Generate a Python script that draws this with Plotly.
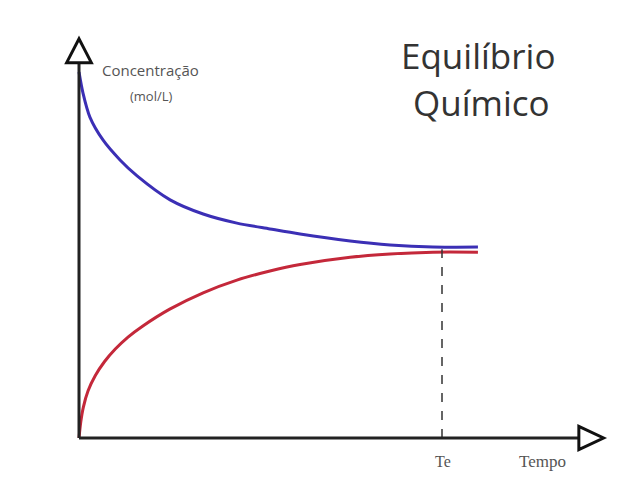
import plotly.graph_objects as go

# Data (time in arbitrary units, concentration in mol/L arbitrary units)
t_reagente = [0.0, 0.11, 0.30, 0.66, 1.13, 1.60, 2.51, 3.42, 4.35, 5.26, 6.09, 7.47, 8.57, 9.75, 10.99]
c_reagente = [10.08, 9.50, 8.84, 8.21, 7.66, 7.22, 6.56, 6.17, 5.92, 5.76, 5.62, 5.43, 5.32, 5.26, 5.26]

t_produto = [0.0, 0.05, 0.12, 0.25, 0.45, 0.70, 1.00, 1.35, 1.75, 2.50, 3.42, 4.35, 5.26, 6.09, 7.47, 8.57, 9.75, 10.99]
c_produto = [0.0, 0.45, 0.85, 1.30, 1.72, 2.10, 2.45, 2.78, 3.08, 3.55, 4.00, 4.35, 4.60, 4.78, 4.98, 5.07, 5.12, 5.12]

t_eq = 10.0
c_eq = 5.2
x_axis_end = 14.45
y_axis_end = 11.0

title_lines = ["Equilíbrio", "Químico"]
y_label = ["Concentração", "(mol/L)"]
x_label = "Tempo"
te_label = "Te"

fig = go.Figure()

fig.add_trace(go.Scatter(x=t_reagente, y=c_reagente, mode="lines",
                         line=dict(color="#3b2fb5", width=3, shape="spline", smoothing=0.8),
                         showlegend=False, hoverinfo="skip"))
fig.add_trace(go.Scatter(x=t_produto, y=c_produto, mode="lines",
                         line=dict(color="#c4283a", width=3, shape="spline", smoothing=0.8),
                         showlegend=False, hoverinfo="skip"))

shapes = []
# dashed equilibrium line
shapes.append(dict(type="line", x0=t_eq, x1=t_eq, y0=0, y1=c_eq, xref="x", yref="y",
                   line=dict(color="#333333", width=1.5, dash="dash")))
# axes
shapes.append(dict(type="line", x0=0, x1=0, y0=0, y1=y_axis_end - 0.6, xref="x", yref="y",
                   line=dict(color="#222222", width=3)))
shapes.append(dict(type="line", x0=0, x1=x_axis_end - 0.6, y0=0, y1=0, xref="x", yref="y",
                   line=dict(color="#222222", width=3)))
# arrow heads (open triangles)
hw = 0.34
shapes.append(dict(type="path", xref="x", yref="y",
                   path=f"M {-hw},{y_axis_end-0.66} L {hw},{y_axis_end-0.66} L 0,{y_axis_end} Z",
                   fillcolor="white", line=dict(color="#111111", width=3)))
shapes.append(dict(type="path", xref="x", yref="y",
                   path=f"M {x_axis_end-0.68},{-0.32} L {x_axis_end-0.68},{0.32} L {x_axis_end},0 Z",
                   fillcolor="white", line=dict(color="#111111", width=3)))

annotations = [
    dict(x=1.96, y=10.14, xref="x", yref="y", text=y_label[0], showarrow=False,
         font=dict(family="Open Sans", size=15, color="#555555")),
    dict(x=2.01, y=9.42, xref="x", yref="y", text=y_label[1], showarrow=False,
         font=dict(family="Open Sans", size=13, color="#555555")),
    dict(x=10.99, y=10.55, xref="x", yref="y", text=title_lines[0], showarrow=False,
         font=dict(family="Open Sans", size=35, color="#333333")),
    dict(x=11.1, y=9.23, xref="x", yref="y", text=title_lines[1], showarrow=False,
         font=dict(family="Open Sans", size=35, color="#333333")),
    dict(x=10.03, y=-0.66, xref="x", yref="y", text=te_label, showarrow=False,
         font=dict(family="Liberation Serif", size=16, color="#555555")),
    dict(x=12.78, y=-0.66, xref="x", yref="y", text=x_label, showarrow=False,
         font=dict(family="Liberation Serif", size=17, color="#555555")),
]

# page body has an 8px margin; ranges compensate so marks land where intended
fig.update_layout(
    width=640, height=479,
    margin=dict(l=0, r=0, t=0, b=0),
    paper_bgcolor="white", plot_bgcolor="white",
    xaxis=dict(range=[-1.956, 15.675], visible=False, fixedrange=True),
    yaxis=dict(range=[-1.35, 11.846], visible=False, fixedrange=True),
    shapes=shapes, annotations=annotations, showlegend=False,
)

fig.write_html("out.html")
